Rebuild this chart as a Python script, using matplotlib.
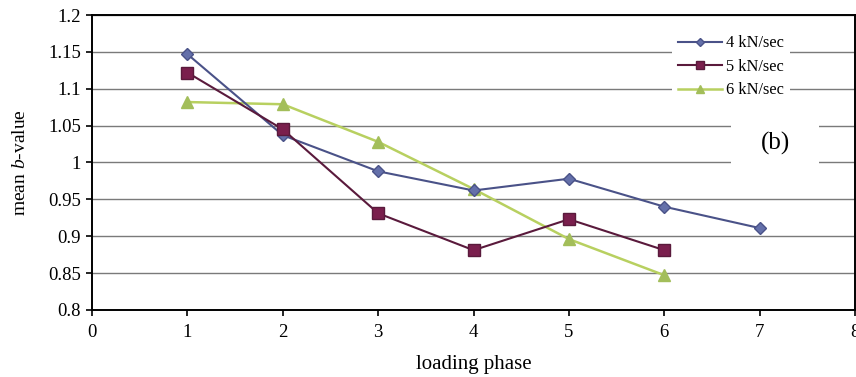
import matplotlib.pyplot as plt
import numpy as np

plt.rcParams['font.family'] = ['Liberation Serif', 'DejaVu Serif']
plt.rcParams['mathtext.fontset'] = 'custom'
plt.rcParams['mathtext.it'] = 'Liberation Serif:italic'
plt.rcParams['mathtext.rm'] = 'Liberation Serif'

# Data
phase_4 = [1, 2, 3, 4, 5, 6, 7]
b_4     = [1.147, 1.037, 0.988, 0.962, 0.978, 0.940, 0.911]
phase_5 = [1, 2, 3, 4, 5, 6]
b_5     = [1.122, 1.045, 0.931, 0.881, 0.923, 0.881]
phase_6 = [1, 2, 3, 4, 5, 6]
b_6     = [1.082, 1.079, 1.028, 0.964, 0.896, 0.847]
labels  = ["4 kN/sec", "5 kN/sec", "6 kN/sec"]

fig = plt.figure(figsize=(8.56, 3.77), dpi=100)
ax = fig.add_axes([0.1075, 0.178, 0.8915, 0.782])

ax.plot(phase_4, b_4, color="#4A5288", lw=1.5, marker="D", ms=6,
        mfc="#6470AA", mec="#4A5288", label=labels[0], zorder=3)
ax.plot(phase_5, b_5, color="#5A1A3C", lw=1.5, marker="s", ms=8,
        mfc="#7A1F4D", mec="#5A1A3C", label=labels[1], zorder=3)
ax.plot(phase_6, b_6, color="#B8D060", lw=1.8, marker="^", ms=8,
        mfc="#A3BE5A", mec="#A3BE5A", label=labels[2], zorder=2)

ax.set_xlim(0, 8)
ax.set_ylim(0.8, 1.2)
ax.set_xticks(np.arange(0, 9, 1))
ax.set_yticks(np.arange(0.8, 1.2001, 0.05))
ax.set_yticklabels(["0.8", "0.85", "0.9", "0.95", "1", "1.05", "1.1", "1.15", "1.2"])
ax.yaxis.grid(True, color="#7a7a7a", lw=1)
ax.set_axisbelow(True)
ax.tick_params(direction="out", length=4, width=1.2, labelsize=13.5, colors="black")
ax.tick_params(axis="y", pad=4)
ax.tick_params(axis="x", pad=6)
for s in ax.spines.values():
    s.set_linewidth(1.4)

ax.set_xlabel("loading phase", fontsize=15, labelpad=10)
ax.set_ylabel("mean $b$-value", fontsize=14, labelpad=14)

leg = ax.legend(loc="upper right", bbox_to_anchor=(0.925, 0.978), frameon=True,
                fontsize=11.8, handlelength=2.7, handletextpad=0.25,
                labelspacing=0.45, borderpad=0.35, markerscale=0.75)
leg.get_frame().set_edgecolor("none")
leg.get_frame().set_facecolor("white")
leg.get_frame().set_alpha(1)

ax.text(7.16, 1.026, "(b)", fontsize=18, ha="center", va="center",
        bbox=dict(facecolor="white", edgecolor="none", pad=21))

fig.savefig("out.png", dpi=100)
